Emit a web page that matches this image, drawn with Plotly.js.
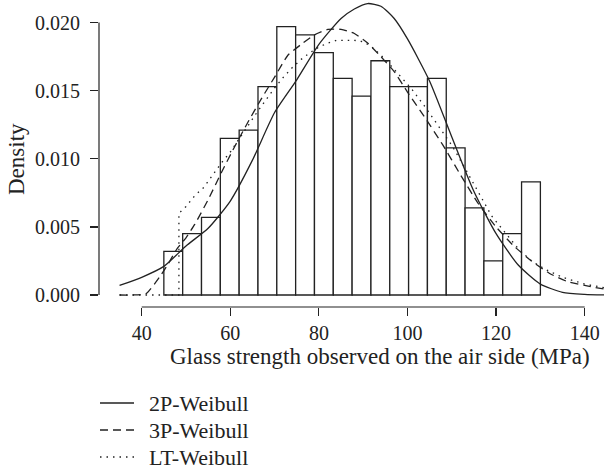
<!DOCTYPE html>
<html>
<head>
<meta charset="utf-8">
<script src="https://cdn.plot.ly/plotly-3.0.1.min.js"></script>
<style>html,body{margin:0;padding:0;background:#fff;}</style>
</head>
<body>
<div id="chart" style="width:604px;height:472px;"></div>
<script>
// Histogram bin edges (MPa) and densities
var binEdges = [45, 49.25, 53.5, 57.75, 62, 66.25, 70.5, 74.75, 79, 83.25, 87.5, 91.75, 96, 100.25, 104.5, 108.75, 113, 117.25, 121.5, 125.75, 130];
var binDensity = [0.0032, 0.0045, 0.0057, 0.0115, 0.0121, 0.0153, 0.0197, 0.0191, 0.0178, 0.0159, 0.0146, 0.0172, 0.0153, 0.0153, 0.0159, 0.0108, 0.0064, 0.0025, 0.0045, 0.0083];

// 2P-Weibull fitted density
var x2P = [35, 40, 45, 50, 55, 60, 65, 70, 75, 80, 85, 88, 91, 94, 97, 100, 105, 110, 115, 120, 125, 130, 135, 140, 145];
var y2P = [0.0007, 0.0013, 0.0021, 0.0036, 0.0049, 0.0069, 0.0099, 0.0134, 0.0158, 0.0184, 0.0203, 0.0210, 0.0214, 0.0212, 0.0203, 0.0188, 0.0157, 0.0116, 0.0076, 0.0045, 0.0022, 0.0008, 0.0002, 0.00005, 0.0];

// 3P-Weibull fitted density
var x3P = [35, 38, 41, 44, 46, 48, 50, 52, 55, 58, 61, 64, 67, 70, 73, 76, 79, 82, 85, 88, 91, 94, 97, 100, 104, 108, 112, 116, 120, 124, 128, 132, 136, 140, 145];
var y3P = [0, 0, 0.0001, 0.0013, 0.0023, 0.0034, 0.0042, 0.0052, 0.0070, 0.0090, 0.0109, 0.0127, 0.0144, 0.0160, 0.0176, 0.0184, 0.0191, 0.0195, 0.0195, 0.0192, 0.0185, 0.0175, 0.0164, 0.0149, 0.0130, 0.0110, 0.0088, 0.0067, 0.0050, 0.0036, 0.0025, 0.0016, 0.0010, 0.0007, 0.0004];

// LT-Weibull (left-truncated) fitted density
var xLT = [35, 40, 45, 48.4, 48.4, 50, 52, 54, 56, 58, 60, 62, 64, 66, 68, 70, 72, 74, 76, 78, 80, 82, 84, 86, 88, 90, 92, 95, 98, 101, 104, 107, 110, 113, 116, 119, 122, 125, 128, 131, 135, 140, 145];
var yLT = [0, 0, 0, 0, 0.0060, 0.0065, 0.0073, 0.0079, 0.0088, 0.0097, 0.0105, 0.0115, 0.0124, 0.0134, 0.0143, 0.0152, 0.0160, 0.0167, 0.0173, 0.0178, 0.0182, 0.0185, 0.0187, 0.0187, 0.0187, 0.0186, 0.0182, 0.0173, 0.0162, 0.0151, 0.0138, 0.0124, 0.0110, 0.0093, 0.0075, 0.0058, 0.0046, 0.0034, 0.0025, 0.0019, 0.0013, 0.0008, 0.0005];

var xTicks = [40, 60, 80, 100, 120, 140];
var yTicks = [0, 0.005, 0.010, 0.015, 0.020];
var seriesNames = ['2P-Weibull', '3P-Weibull', 'LT-Weibull'];
var seriesDash = ['solid', '8px,5px', '1.5px,5px'];

var ink = '#222222';
var fontFam = '"Liberation Serif", "Times New Roman", serif';

var centers = [], widths = [];
for (var i = 0; i < binDensity.length; i++) {
  centers.push((binEdges[i] + binEdges[i + 1]) / 2);
  widths.push(binEdges[i + 1] - binEdges[i]);
}

var traces = [
  {type: 'bar', x: centers, y: binDensity, width: widths, showlegend: false,
   marker: {color: '#ffffff', line: {color: ink, width: 1.3}}, hoverinfo: 'skip'},
  {type: 'scatter', mode: 'lines', x: x2P, y: y2P, name: seriesNames[0],
   line: {color: ink, width: 1.3, dash: seriesDash[0], shape: 'spline', smoothing: 0.6}},
  {type: 'scatter', mode: 'lines', x: x3P, y: y3P, name: seriesNames[1],
   line: {color: ink, width: 1.3, dash: seriesDash[1], shape: 'spline', smoothing: 0.5}},
  {type: 'scatter', mode: 'lines', x: xLT, y: yLT, name: seriesNames[2],
   line: {color: ink, width: 1.3, dash: seriesDash[2]}}
];

// legend drawn below the plot, R style
var plotTop = 0, plotH = 307, plotL = 99, plotW = 505;
function px2paperX(p) { return (p - plotL) / plotW; }
function px2paperY(p) { return (plotH - p) / plotH; }
var legendRowsPx = [403, 430, 457];

var shapes = [
  {type: 'line', xref: 'x', yref: 'paper', x0: xTicks[0], x1: xTicks[xTicks.length - 1], y0: 0, y1: 0,
   line: {color: ink, width: 1.2}},
  {type: 'line', xref: 'paper', yref: 'y', x0: 0, x1: 0, y0: yTicks[0], y1: yTicks[yTicks.length - 1],
   line: {color: ink, width: 1.2}}
];
var annotations = [
  {text: 'Glass strength observed on the air side (MPa)', xref: 'paper', yref: 'paper',
   x: px2paperX(380), y: px2paperY(356), xanchor: 'center', yanchor: 'middle', showarrow: false,
   font: {family: fontFam, size: 23, color: ink}},
  {text: 'Density', xref: 'paper', yref: 'paper', x: px2paperX(16), y: px2paperY(159), textangle: -90,
   xanchor: 'center', yanchor: 'middle', showarrow: false,
   font: {family: fontFam, size: 23, color: ink}}
];
for (var k = 0; k < seriesNames.length; k++) {
  shapes.push({type: 'line', xref: 'paper', yref: 'paper',
    x0: px2paperX(100), x1: px2paperX(134), y0: px2paperY(legendRowsPx[k]), y1: px2paperY(legendRowsPx[k]),
    line: {color: ink, width: 1.3, dash: seriesDash[k]}});
  annotations.push({text: seriesNames[k], xref: 'paper', yref: 'paper',
    x: px2paperX(147), y: px2paperY(legendRowsPx[k]), xanchor: 'left', yanchor: 'middle', showarrow: false,
    font: {family: fontFam, size: 22, color: ink}});
}

var layout = {
  width: 604, height: 472,
  margin: {l: plotL, r: 604 - plotL - plotW, t: plotTop, b: 472 - plotH, pad: 0, autoexpand: false},
  paper_bgcolor: '#ffffff', plot_bgcolor: '#ffffff',
  font: {family: fontFam, size: 20, color: ink},
  bargap: 0,
  showlegend: false,
  xaxis: {range: [30.36, 144.36], showline: false, zeroline: false, showgrid: false,
          ticks: 'outside', ticklen: 8, tickwidth: 1.2, tickcolor: ink,
          tickvals: xTicks, ticktext: xTicks.map(String), automargin: false,
          tickfont: {family: fontFam, size: 20, color: ink}, ticklabelstandoff: 0},
  yaxis: {range: [-0.000881, 0.021659], showline: false, zeroline: false, showgrid: false,
          ticks: 'outside', ticklen: 8, tickwidth: 1.2, tickcolor: ink, automargin: false,
          tickvals: yTicks, ticktext: yTicks.map(function (v) { return v.toFixed(3); }),
          tickfont: {family: fontFam, size: 20, color: ink}, ticklabelstandoff: 6},
  shapes: shapes,
  annotations: annotations
};

Plotly.newPlot('chart', traces, layout, {displayModeBar: false, staticPlot: true});
</script>
</body>
</html>
